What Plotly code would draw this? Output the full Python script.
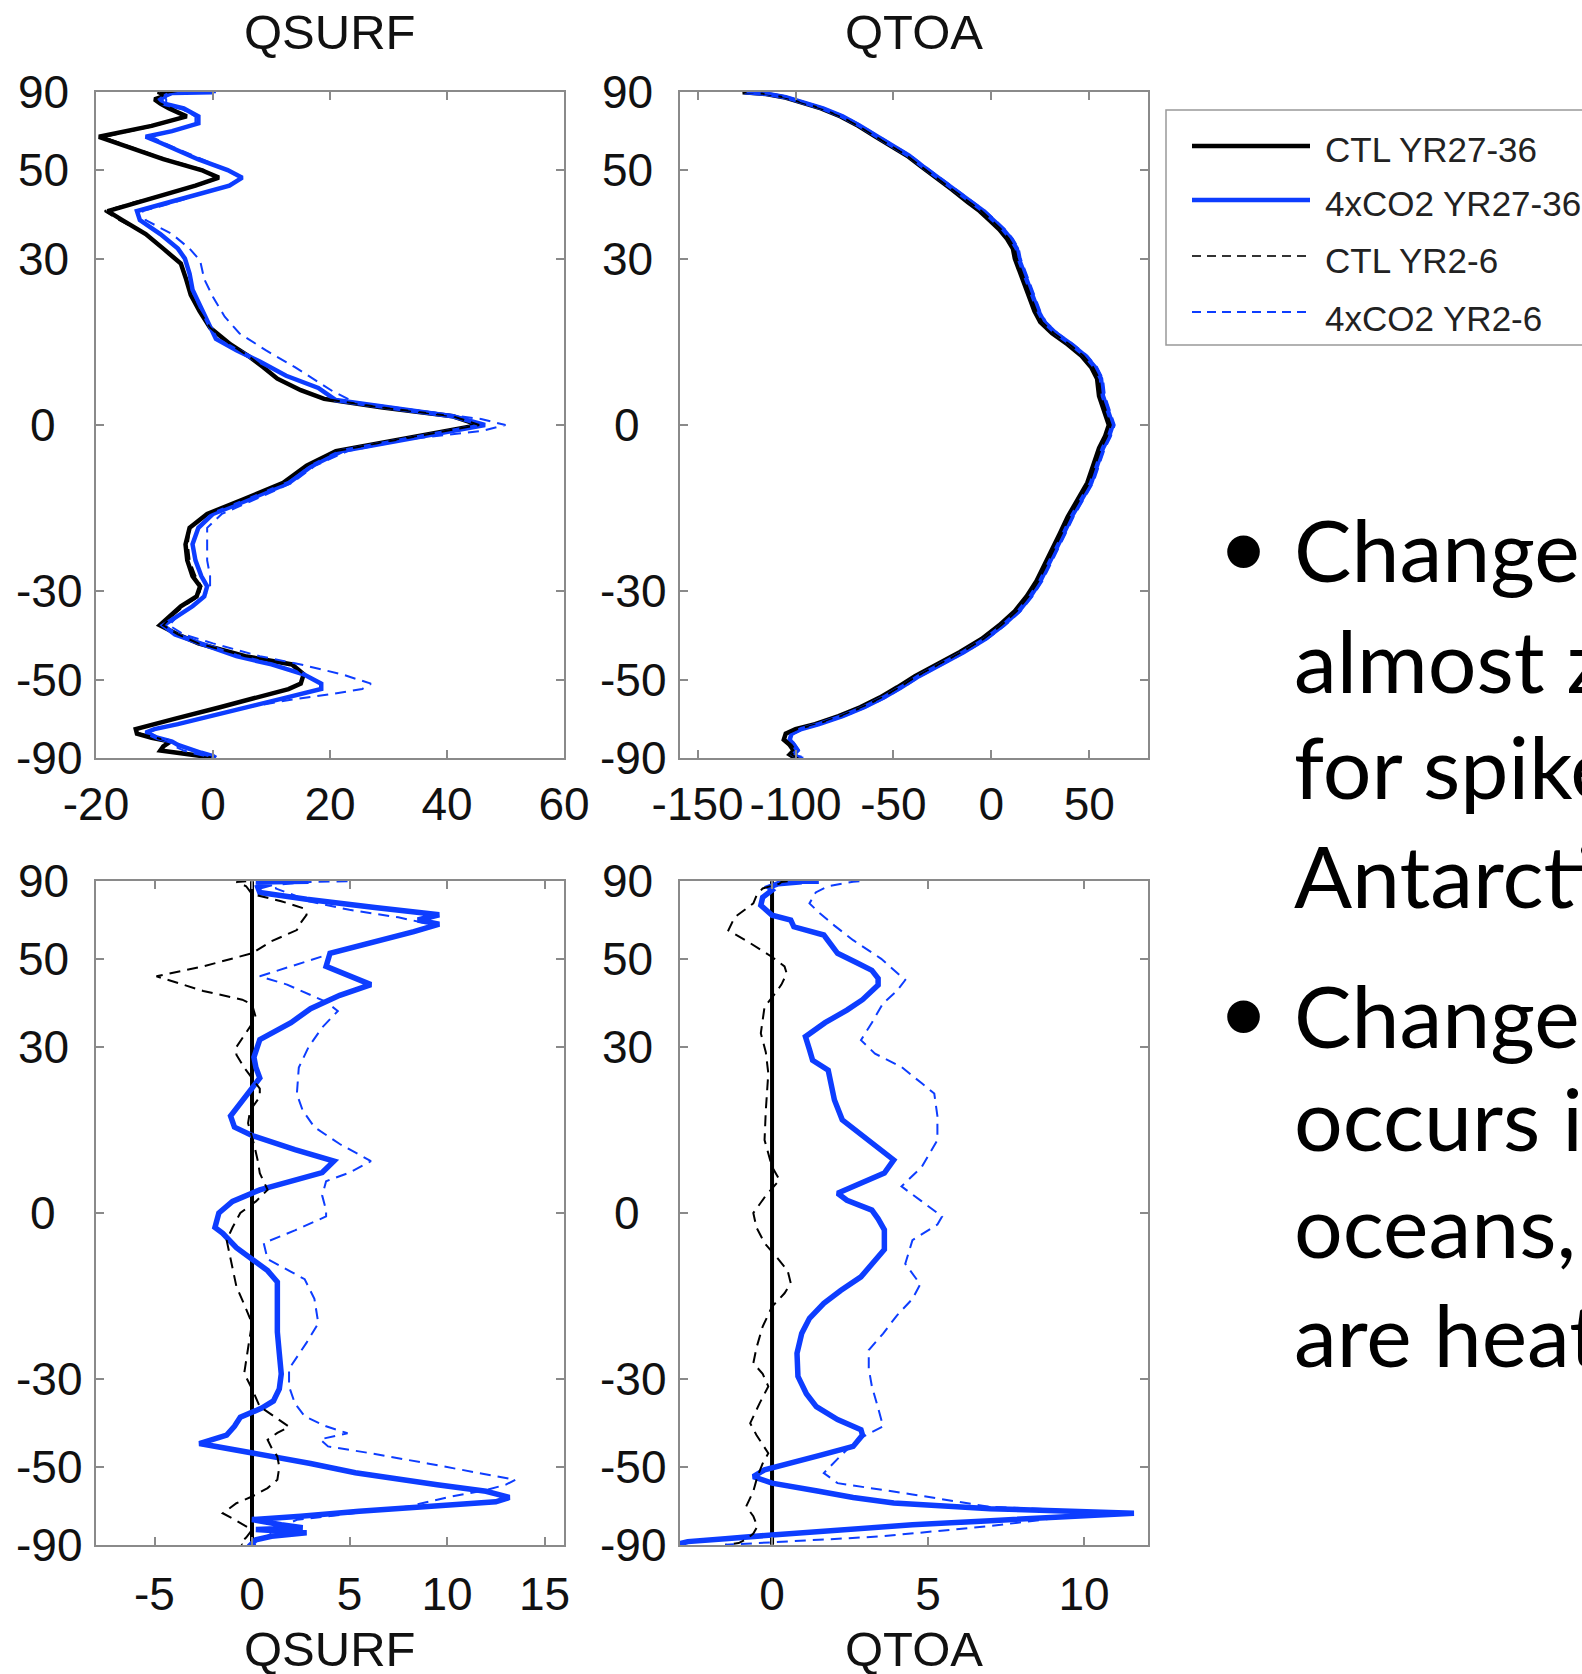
import numpy as np
import plotly.graph_objects as go

W, H = 1582, 1674

# ---------------- data ----------------
# Panel (a): surface heat flux QSURF, absolute
lat_surf_ctl = [90, 86, 82, 78, 75, 72, 68, 64, 60, 59, 56, 53, 50, 48, 46, 44, 42, 40, 38, 35,
                32, 29, 26, 23, 20, 17, 14, 12, 10, 8, 6, 4.5, 3, 1.5, 0, -1.5, -3, -4.5, -7, -10,
                -13, -15.5, -18, -21, -24, -27, -29, -31, -33, -35, -37, -39, -41, -44, -46, -48.5,
                -51, -52.5, -55, -58, -62, -66, -68, -70, -72, -75, -78, -81, -85, -90]
qsurf_ctl_27_36 = [-6, -9, -8, -10, -9, -7.5, -4.5, -10.5, -19.5, -18,
                   -13.5, -8.5, -2, 1, -3, -8, -13, -18, -15.5, -11.5,
                   -8.5, -5.5, -4.6, -3.8, -2.3, -0.5, 3, 6, 8.6, 11,
                   15, 19, 29, 41, 45.5, 37, 29, 21, 16, 12,
                   5, -1, -4, -4.7, -4.4, -3.5, -2.2, -2.8, -5.5, -7.3,
                   -9.1, -6, -2.5, 5.5, 13.5, 15.5, 15, 12.9, 7.5, 1.2,
                   -6.6, -13.2, -13, -10.5, -7.3, -8.5, -9, -4.7, -1, 0.3]
qsurf_ctl_2_6 = [-6, -9.5, -8.5, -10, -9, -7, -4.5, -10, -18.5, -17.5,
                 -13, -8, -1.5, 1, -2.5, -8, -13.5, -18.5, -16, -11.5,
                 -8.5, -5.5, -4.6, -3.8, -2.3, -0.5, 3, 6, 8.6, 11,
                 15, 19, 29, 41, 45.5, 37, 29, 21, 16, 12,
                 5, -1, -4, -4.3, -4, -3, -2, -2.5, -5, -7,
                 -8.5, -6, -2.5, 5.5, 13.5, 15.5, 15, 12.9, 7.5, 1.2,
                 -6.6, -13, -12.5, -10, -7.3, -8.5, -8.5, -4.5, -1, 0.3]

lat_surf_4x_27_36 = [90, 86, 82, 78, 75, 72, 68, 65, 62, 60, 58, 56, 53, 50, 48, 46, 44, 42, 40, 38,
                     35, 32, 30, 27, 24, 21, 18, 15, 13, 11, 8.5, 6.4, 4.3, 3, 1.5, 0,
                     -1.5, -3, -4.5, -7, -10, -13, -15.5, -18, -21, -24, -27, -29, -31, -33, -35,
                     -37, -39, -41, -44, -46, -48.5, -51, -52.5, -55, -58, -61, -64, -66, -67.5,
                     -70, -72, -74, -77, -80, -84, -90]
qsurf_4x_27_36 = [0, -7, -8, -9, -8.5, -5, -2.5, -2.5, -7, -11.5, -9, -6.6, -2.6, 2.5, 5, 2.8, -2, -7.5, -13, -12.5,
                  -9, -6, -4.8, -4, -3.5, -2.2, -1, 0.5, 4, 8, 12.5, 18, 21, 30, 41, 46.5,
                  38, 30, 22, 17, 13, 6, 0, -2.5, -3.5, -3, -2, -1, -1.5, -3.5, -6,
                  -8.5, -6.5, -2, 4, 10, 15.5, 18.5, 18.5, 12.5, 6, -0.5, -6, -10, -11.5,
                  -9.5, -7, -6, -4, -2, 0, 0.5]

lat_surf_4x_2_6 = [90, 88, 86, 82, 78, 75, 72, 68, 65, 62, 60, 58, 56, 53, 50, 48, 46, 44, 42, 40,
                   38, 35, 32, 29.6, 26, 22.6, 19, 16, 13, 10, 8.7, 5.8, 4, 2.5, 1, 0,
                   -1, -2.5, -4.5, -7, -10, -13, -15.5, -18, -21, -24, -27, -29, -31, -33, -35,
                   -37, -39, -41, -44, -46, -48.5, -51, -52.5, -54, -56, -58, -61, -64, -66, -67.5,
                   -70, -72, -75, -78, -81, -85, -90]
qsurf_4x_2_6 = [0.5, -2, -6, -8.5, -8, -8, -5.5, -3, -3, -7, -10.5, -8.5, -6, -2, 2.5, 5, 2.5, -2, -6.5, -12,
                -11.5, -7, -4, -2.2, -1.5, 0, 2, 4.5, 9, 14, 16, 20.5, 24, 35, 46, 50,
                46, 33, 23, 17.5, 13.5, 7, 1.5, -1, -1, -1, -0.5, -0.5, -1.5, -3.5, -6,
                -7.5, -5, 0, 8, 15, 22, 27, 25.5, 20, 12, 6, -0.5, -6, -10, -11,
                -9, -7.5, -6.5, -5, -3, -1, 0.5]

# Panel (b): top-of-atmosphere heat flux QTOA, absolute
lat_toa = [90, 87, 84, 80, 76, 72, 68, 64, 60, 57, 54, 51, 48, 45, 42, 40, 38, 36, 34, 32,
           30, 28, 25, 22, 20, 18, 16, 14, 12, 10, 8, 5, 3, 1, 0, -2, -4, -7, -10, -13,
           -16, -19, -22, -25, -28, -31, -34, -37, -40, -43, -46, -49, -52, -55, -58, -61,
           -64, -66, -68, -71, -74, -78, -82, -86, -90]
qtoa_ctl_27_36 = [-127, -122, -115, -106, -98, -87, -77, -68, -59, -51, -43, -36, -28, -20, -12, -6, -1, 4, 8, 11,
                  12, 14, 17, 20, 22, 25, 31, 39, 46, 51, 54, 55, 57, 59, 60, 58, 55, 52, 49, 44,
                  39, 35, 31, 27, 23, 18, 12, 4, -5, -16, -28, -39, -48, -57, -67, -78,
                  -90, -100, -105, -106, -103, -101, -103, -101, -99]
qtoa_4x_27_36 = [-126, -121, -114, -105, -97, -86, -76, -67, -58, -50, -42, -35, -27, -19, -10, -4, 1, 6, 10, 13,
                 14, 16, 19, 22, 24, 27, 33, 41, 48, 53, 56, 57, 59, 61, 62, 60, 57, 54, 51, 46,
                 41, 37, 33, 29, 25, 20, 14, 6, -3, -14, -26, -37, -46, -55, -65, -76,
                 -88, -97, -102, -103, -101, -99, -101, -99, -97]
qtoa_ctl_2_6 = [-127, -122, -115, -106, -98, -87, -77, -68, -59, -51, -43, -36, -28, -20, -11, -5, 0, 5, 9, 12,
                13, 15, 18, 21, 23, 26, 32, 40, 47, 52, 55, 56, 58, 60, 61, 59, 56, 53, 50, 45,
                40, 36, 32, 28, 24, 19, 13, 5, -4, -15, -27, -38, -47, -56, -66, -77,
                -89, -99, -104, -105, -102, -100, -102, -100, -98]
qtoa_4x_2_6 = [-125, -120, -113, -104, -96, -85, -75, -66, -57, -49, -41, -34, -26, -18, -9, -3, 2, 7, 11, 14,
               15, 17, 20, 23, 25, 28, 34, 42, 49, 54, 57, 58, 60, 62, 63, 61, 58, 55, 52, 47,
               42, 38, 34, 30, 26, 21, 15, 7, -2, -13, -25, -36, -45, -54, -64, -75,
               -87, -96, -101, -102, -100, -98, -100, -98, -96]

# Panels (c), (d): differences relative to CTL YR27-36
lat_pole = [90, -90]
diff_ctl_27_36 = [0, 0]

lat_dsurf_4x_27_36 = [90, 88, 86, 83, 79, 75, 71, 67, 64, 62, 60.5, 58, 55, 51.5, 48, 45.5, 43.5, 41, 38, 35,
                      31.5, 28, 26, 24, 22, 19, 17, 15, 13.5, 11, 9, 7, 5.5, 4, 2, 0, -2.5, -3.5, -6, -8,
                      -10, -12, -16, -21, -25, -29, -32, -34.5, -36, -38, -40, -42, -44, -45, -46.5, -49,
                      -51.5, -53, -55, -57, -59, -60.5, -62, -64, -66, -67.5, -70, -71.5, -72.5, -74.5,
                      -77, -80, -85, -90]
dqsurf_4x_27_36 = [2.9, 1.0, 0.2, 1.0, 0.3, 0.4, 2.8, 6.3, 9.6, 8.5, 9.6, 8.3, 6.4, 4, 3.8, 5, 6.1, 4.5, 3, 2,
                   0.4, 0.1, 0.2, 0.4, 0, -0.6, -1.1, -0.9, 0, 2.2, 4.2, 3.6, 2, 0.4, -1, -1.7, -1.9, -1.5, -0.8, 0,
                   0.8, 1.3, 1.3, 1.3, 1.4, 1.5, 1.4, 1.1, 0.5, -0.6, -0.9, -1.3, -2.7, -1.5, 0.4, 3,
                   5.3, 7, 9.5, 12, 13.2, 12.5, 9, 5.5, 2.5, 0, 1.5, 2.6, 0.2, 2.8,
                   1, 0.2, 0, 0.2]

lat_dsurf_4x_2_6 = [90, 86, 82, 78, 74, 70, 66, 63, 60, 57, 54, 51, 48, 45.5, 43.5, 41, 39.5, 37.5, 34, 30,
                    26, 21, 18, 15, 12, 9, 7, 5.5, 3, 0.5, -0.6, -3, -5.2, -8, -11.5, -15, -19.4, -23, -28, -31.5,
                    -35, -37.8, -40, -41.6, -43, -44.7, -46.4, -49, -51.5, -53.5, -55, -56.6, -59, -62.2, -65,
                    -67.6, -71, -75, -80, -90]
dqsurf_4x_2_6 = [4.9, 3, 1.5, 1.2, 2, 2.9, 5, 7.5, 9.5, 7.5, 5.5, 3.8, 2, 0.4, 1.8, 3, 3.8, 4.4, 3.6, 2.9,
                 2.4, 2.3, 2.6, 3.2, 4.5, 6.1, 5, 3.8, 3.6, 3.8, 3.8, 2.2, 0.6, 0.8, 2.7, 3.2, 3.4, 2.8, 1.9, 1.9,
                 2.2, 2.7, 3.8, 4.9, 3.5, 3.9, 6.1, 9, 11.5, 13.5, 13, 12, 10, 8, 5,
                 2.3, 1.5, 1, 0.5, 0.3]

lat_dsurf_ctl_2_6 = [90, 86, 80, 74, 70, 66.5, 64, 61, 58.5, 55, 51.5, 48, 45.5, 43.5, 42, 40, 39, 36, 33, 30,
                     28.5, 26, 24, 22, 20.5, 18, 15.7, 12, 9, 6.9, 4, 2, 0, -2.5, -4.7, -8, -12.8, -16, -19.4, -24,
                     -28.9, -32, -35.7, -38, -40.1, -41.5, -43.1, -45, -47.2, -50, -53.5, -56, -58.7, -61, -64.8,
                     -67, -69.2, -72.7, -78, -84, -90]
dqsurf_ctl_2_6 = [-0.3, -0.8, -0.3, 0, 1.5, 2.7, 2.8, 2.5, 2.3, 1, 0, -2.5, -4.9, -3.5, -2.5, -0.5, 0, 0.2, -0.3, -0.8,
                  -0.8, -0.4, 0, 0.4, 0.4, -0.1, -0.2, 0.1, 0.3, 0.4, 0.8, 0.2, -0.6, -1, -1.3, -1.1, -0.8, -0.4, 0, -0.2,
                  -0.4, 0, 0.4, 1.2, 1.9, 1.3, 0.8, 1, 1.3, 1.4, 1.3, 0.8, 0, -0.8, -1.5,
                  -1, -0.6, 0, -0.3, -0.6, -0.5]

lat_dtoa_4x_27_36 = [90, 88, 86.7, 83, 79, 76.7, 72, 68, 65, 63.8, 62, 59.6, 56.9, 54, 51.5, 49, 47, 45, 43.4, 40,
                     37.7, 35, 32.1, 29.5, 27.4, 25.5, 22, 19.9, 16.3, 13, 9.2, 6.9, 5, 3.4, 2.2, 0.5, -1, -2.9, -6.3, -9,
                     -11.1, -13.5, -15.8, -18.5, -21.3, -25, -29.5, -33, -35.7, -38.5, -40.8, -42, -44.7, -47, -49,
                     -50.7, -52.6, -54.5, -57, -59, -60.9, -63, -64.8, -66.2, -68, -70, -72.7, -76, -79, -82, -86, -90]
dqtoa_4x_27_36 = [1.5, 0.8, 0.95, 0.2, -0.1, 0, -0.3, -0.36, -0.1, 0, 0.6, 0.7, 1.66, 1.9, 2.1, 2.7, 3.2, 3.4, 3.4, 2.9,
                  2.4, 1.7, 1.07, 1.2, 1.3, 1.8, 1.9, 2, 2.25, 3, 3.9, 3.6, 2.8, 2.1, 2.4, 3.2, 3.4, 3.6, 3.6, 3.2,
                  2.85, 2.2, 1.66, 1.2, 0.95, 0.8, 0.83, 1.1, 1.42, 2.1, 2.85, 2.9, 2.6, 1.5, 0.5,
                  -0.24, -0.6, 0, 1.5, 2.6, 3.9, 7, 11.6, 9.25, 7, 4.5, 2, 0, -1.5, -2.7, -3, -3.5]

lat_dtoa_4x_2_6 = [90, 86.6, 80, 75, 68.9, 64.5, 60, 55.3, 50, 44.6, 42, 39.2, 35, 31.4, 28.7, 26.1, 23, 21.1, 17, 12.7,
                   8, 4.6, 2, -0.6, -2, -4.7, -8.8, -12.4, -15, -18, -21.3, -24.4, -28, -31.5, -36, -40, -43.1, -47,
                   -51.6, -54.5, -58, -62.2, -64.8, -67, -70.8, -73.8, -77, -80, -85, -90]
dqtoa_4x_2_6 = [2.8, 2.6, 1.8, 1.4, 1.2, 1.54, 2, 2.6, 3.5, 4.27, 4, 3.56, 3.2, 2.85, 3.3, 4.15, 4.8, 5.2, 5.3, 5.3,
                4.8, 4.15, 4.8, 5.45, 5.3, 4.5, 4.27, 4.75, 4.5, 4, 3.56, 3.1, 3.1, 3.2, 3.4, 3.56, 2.73, 2.2,
                1.66, 2.1, 4.5, 6.9, 11.6, 9, 6.9, 5, 3.5, 1.5, -0.5, -1.5]

lat_dtoa_ctl_2_6 = [90, 86, 83, 78, 73, 68.9, 63, 58.4, 55, 50.5, 48, 46.2, 43.5, 41.4, 38.4, 35, 32.8, 29, 24.9, 18,
                    12.7, 8, 5.7, 3, 1.1, 0, -2.5, -5.2, -8, -10, -12.2, -14, -16.4, -20, -24, -26.9, -29, -31.5,
                    -35, -39.3, -42, -46.4, -49, -52.6, -57, -62.2, -66, -70.8, -75, -79, -84, -90]
dqtoa_ctl_2_6 = [0.5, 0.3, 0.24, -0.3, -0.5, -0.6, -1.2, -1.4, -0.8, 0, 0.4, 0.47, 0.3, 0.1, -0.24, -0.3, -0.36, -0.2, -0.12, -0.2,
                 -0.24, 0, 0.24, -0.2, -0.47, -0.6, -0.5, -0.24, 0.2, 0.5, 0.6, 0.4, 0, -0.3, -0.5, -0.6, -0.3, -0.12,
                 -0.4, -0.7, -0.5, -0.12, -0.3, -0.47, -0.6, -0.83, -0.6, -0.47, -0.6, -0.8, -1.07, -1.5]

lat_ticks = [-90, -50, -30, 0, 30, 50, 90]
legend_labels = ["CTL YR27-36", "4xCO2 YR27-36", "CTL YR2-6", "4xCO2 YR2-6"]
bullet_1 = ["Change in", "almost zero", "for spikes", "Antarctica"]
bullet_2 = ["Change in", "occurs in", "oceans, which", "are heated"]

# ---------------- style ----------------
BLUE = "#0d3dff"
BLACK = "#000000"
AXIS_GRAY = "#8a8a8a"
TICK_FONT = dict(family="Liberation Sans, Arial, sans-serif", size=46, color="#111111")


def px_x(px):
    return px / W


def px_y(py):
    return 1 - py / H


def sinlat(lat):
    return np.sin(np.radians(np.asarray(lat, dtype=float)))


fig = go.Figure()

styles = {
    "ctl_long": dict(color=BLACK, width=4.5),
    "4x_long": dict(color=BLUE, width=4.5),
    "ctl_short": dict(color=BLACK, width=2, dash="11px,7px"),
    "4x_short": dict(color=BLUE, width=2, dash="11px,7px"),
}


def add(lat, vals, key, axis_id, width=None):
    line = dict(styles[key])
    if width is not None:
        line["width"] = width
    fig.add_trace(go.Scatter(
        x=vals, y=sinlat(lat), mode="lines", line=line,
        xaxis="x" + axis_id, yaxis="y" + axis_id, showlegend=False, hoverinfo="skip"))


# top-left: QSURF
add(lat_surf_ctl, qsurf_ctl_27_36, "ctl_long", "")
add(lat_surf_4x_27_36, qsurf_4x_27_36, "4x_long", "")
add(lat_surf_ctl, qsurf_ctl_2_6, "ctl_short", "")
add(lat_surf_4x_2_6, qsurf_4x_2_6, "4x_short", "")
# top-right: QTOA
add(lat_toa, qtoa_ctl_27_36, "ctl_long", "2")
add(lat_toa, qtoa_4x_27_36, "4x_long", "2")
add(lat_toa, qtoa_ctl_2_6, "ctl_short", "2")
add(lat_toa, qtoa_4x_2_6, "4x_short", "2")
# bottom-left: QSURF difference
add(lat_pole, diff_ctl_27_36, "ctl_long", "3", width=4)
add(lat_dsurf_4x_27_36, dqsurf_4x_27_36, "4x_long", "3", width=5.5)
add(lat_dsurf_ctl_2_6, dqsurf_ctl_2_6, "ctl_short", "3")
add(lat_dsurf_4x_2_6, dqsurf_4x_2_6, "4x_short", "3")
# bottom-right: QTOA difference
add(lat_pole, diff_ctl_27_36, "ctl_long", "4", width=4)
add(lat_dtoa_4x_27_36, dqtoa_4x_27_36, "4x_long", "4", width=5.5)
add(lat_dtoa_ctl_2_6, dqtoa_ctl_2_6, "ctl_short", "4")
add(lat_dtoa_4x_2_6, dqtoa_4x_2_6, "4x_short", "4")

# ---------------- axes ----------------
panels = {
    "": dict(x=(96, 564), y=(92, 758), xr=[-20, 60], xt=[-20, 0, 20, 40, 60], so=5),
    "2": dict(x=(680, 1148), y=(92, 758), xr=[-159, 80], xt=[-150, -100, -50, 0, 50], so=5),
    "3": dict(x=(96, 564), y=(881, 1545), xr=[-8, 16], xt=[-5, 0, 5, 10, 15], so=8),
    "4": dict(x=(680, 1148), y=(881, 1545), xr=[-2.95, 12.05], xt=[0, 5, 10], so=8),
}

common = dict(showline=True, linecolor=AXIS_GRAY, linewidth=1.5, mirror="ticks",
              ticks="inside", ticklen=8, tickwidth=1.5, tickcolor=AXIS_GRAY,
              showgrid=False, zeroline=False, tickfont=TICK_FONT, automargin=False)

layout_axes = {}
annotations = []
for aid, p in panels.items():
    layout_axes["xaxis" + aid] = dict(
        common, domain=[px_x(p["x"][0]), px_x(p["x"][1])], range=p["xr"],
        tickvals=p["xt"], ticktext=[str(v) for v in p["xt"]],
        anchor="y" + aid, ticklabelstandoff=p["so"])
    layout_axes["yaxis" + aid] = dict(
        common, domain=[px_y(p["y"][1]), px_y(p["y"][0])], range=[-1.0005, 1.0005],
        tickvals=list(sinlat(lat_ticks)), showticklabels=False, anchor="x" + aid)
    # latitude labels, centred in the gutter left of each panel
    for lt in lat_ticks:
        cx = p["x"][0] - (47 if lt < 0 else 53)
        annotations.append(dict(text=str(lt), x=px_x(cx), y=float(sinlat(lt)),
                                xref="paper", yref="y" + aid, xanchor="center", yanchor="middle",
                                showarrow=False, font=TICK_FONT))

fig.update_layout(width=W, height=H,
                  margin=dict(l=0, r=0, t=0, b=0, pad=0, autoexpand=False),
                  paper_bgcolor="white", plot_bgcolor="white", showlegend=False,
                  **layout_axes)

# ---------------- titles ----------------
title_font = dict(family="Liberation Sans, Arial, sans-serif", size=49, color="#111111")
for name, cx, cy in [("QSURF", 330, 32), ("QTOA", 914, 32), ("QSURF", 330, 1649), ("QTOA", 914, 1649)]:
    annotations.append(dict(text=name, x=px_x(cx), y=px_y(cy), xref="paper", yref="paper",
                            xanchor="center", yanchor="middle", showarrow=False, font=title_font))

# ---------------- legend box ----------------
shapes = [dict(type="rect", xref="paper", yref="paper", x0=px_x(1166), x1=px_x(1620),
               y0=px_y(345), y1=px_y(110), line=dict(color="#999999", width=1.5),
               fillcolor="white", layer="below")]
legend_rows = [146, 200, 256, 312]
legend_text_rows = [150, 203, 261, 318]
legend_lines = [dict(color=BLACK, width=4.5), dict(color=BLUE, width=4.5),
                dict(color="#333333", width=2, dash="9px,6px"),
                dict(color=BLUE, width=2, dash="9px,6px")]
for label, ly, ty, ln in zip(legend_labels, legend_rows, legend_text_rows, legend_lines):
    shapes.append(dict(type="line", xref="paper", yref="paper", x0=px_x(1192), x1=px_x(1310),
                       y0=px_y(ly), y1=px_y(ly), line=ln))
    annotations.append(dict(text=label, x=px_x(1323), y=px_y(ty), xref="paper", yref="paper",
                            xanchor="left", yanchor="middle", showarrow=False,
                            font=dict(family="Liberation Sans, Arial, sans-serif", size=35, color="#222222")))

# ---------------- bullet text ----------------
body_font = dict(family="Lato, Open Sans, sans-serif", size=86, color="#000000")
baselines_1 = [584, 695, 800, 909]
baselines_2 = [1049, 1152, 1259, 1368]
for lines, bases in [(bullet_1, baselines_1), (bullet_2, baselines_2)]:
    for txt, b in zip(lines, bases):
        annotations.append(dict(text=txt, x=px_x(1292), y=px_y(b - 35), xref="paper", yref="paper",
                                xanchor="left", yanchor="middle", showarrow=False, font=body_font))
    annotations.append(dict(text="•", x=px_x(1243), y=px_y(bases[0] - 40), xref="paper", yref="paper",
                            xanchor="center", yanchor="middle", showarrow=False,
                            font=dict(family="Lato, sans-serif", size=88, color="#000000")))

fig.update_layout(annotations=annotations, shapes=shapes)
fig.write_html("out.html")
